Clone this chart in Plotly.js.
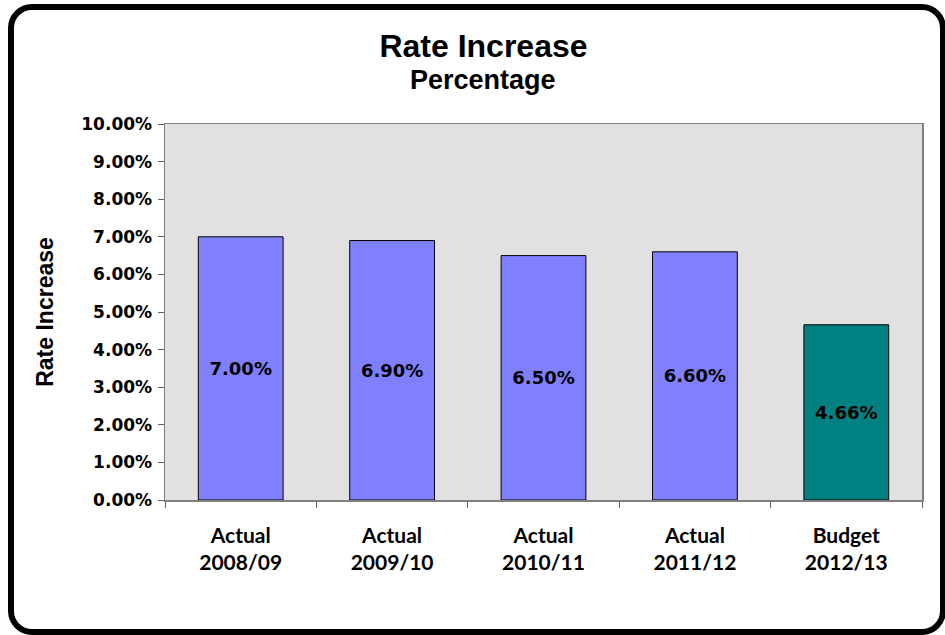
<!DOCTYPE html>
<html>
<head>
<meta charset="utf-8">
<script src="https://cdn.plot.ly/plotly-3.0.1.min.js"></script>
<style>
  html, body { margin: 0; padding: 0; background: #ffffff; }
  #wrap { position: relative; width: 945px; height: 635px; overflow: hidden; }
  #chart { position: absolute; left: 0; top: 0; width: 945px; height: 635px; }
  #frame { position: absolute; left: 8px; top: 4px; width: 938px; height: 631px;
           box-sizing: border-box; border: 6px solid #000; border-radius: 24px;
           pointer-events: none; }
</style>
</head>
<body>
<div id="wrap">
  <div id="chart"></div>
  <div id="frame"></div>
</div>
<script>
// ---- data ----
const categories = ["Actual<br>2008/09", "Actual<br>2009/10", "Actual<br>2010/11", "Actual<br>2011/12", "Budget<br>2012/13"];
const rates = [0.0700, 0.0690, 0.0650, 0.0660, 0.0466];
const barColors = ["#8080FF", "#8080FF", "#8080FF", "#8080FF", "#008080"];
const yTickValues = [0, 0.01, 0.02, 0.03, 0.04, 0.05, 0.06, 0.07, 0.08, 0.09, 0.10];
const chartTitle = "Rate Increase";
const chartSubtitle = "Percentage";
const yTitle = "Rate Increase";

const trace = {
  type: "bar",
  x: categories,
  y: rates,
  marker: { color: barColors, line: { color: "#000000", width: 1 } },
  text: rates.map(v => (v * 100).toFixed(2) + "%"),
  textposition: "inside",
  insidetextanchor: "middle",
  textangle: 0,
  textfont: { family: "DejaVu Sans", size: 18, color: "#000000", weight: "bold" },
  hoverinfo: "none"
};

const layout = {
  width: 945,
  height: 635,
  margin: { l: 165, r: 23, t: 124, b: 135 },
  paper_bgcolor: "#ffffff",
  plot_bgcolor: "#E1E1E1",
  showlegend: false,
  bargap: 0.44,
  title: {
    text: chartTitle,
    font: { family: "Liberation Sans", size: 32, color: "#000000", weight: "bold" },
    xref: "container", x: 0.5116, xanchor: "center",
    yref: "container", y: 0.9276, yanchor: "middle"
  },
  annotations: [{
    text: chartSubtitle,
    xref: "paper", yref: "paper",
    x: 0.42, y: 1.117, xanchor: "center", yanchor: "middle",
    showarrow: false,
    font: { family: "Liberation Sans", size: 27, color: "#000000", weight: "bold" }
  }],
  xaxis: {
    type: "category",
    tickson: "boundaries",
    ticks: "outside",
    ticklen: 6,
    tickcolor: "#606060",
    tickwidth: 1,
    showline: true,
    linecolor: "#808080",
    linewidth: 1.5,
    mirror: true,
    showgrid: false,
    ticklabelstandoff: 16,
    tickfont: { family: "Lato", size: 21, color: "#000000", weight: "bold" },
    fixedrange: true
  },
  yaxis: {
    range: [0, 0.10],
    tickvals: yTickValues,
    tickformat: ".2%",
    ticks: "outside",
    ticklen: 6,
    tickcolor: "#606060",
    tickwidth: 1,
    showline: true,
    linecolor: "#808080",
    linewidth: 1.5,
    mirror: true,
    showgrid: false,
    zeroline: false,
    ticklabelstandoff: 2,
    tickfont: { family: "DejaVu Sans", size: 17, color: "#000000", weight: "bold" },
    title: {
      text: yTitle,
      standoff: 21,
      font: { family: "Liberation Sans", size: 23, color: "#000000", weight: "bold" }
    },
    automargin: false,
    fixedrange: true
  }
};

Plotly.newPlot("chart", [trace], layout, { displayModeBar: false, staticPlot: true });
</script>
</body>
</html>
